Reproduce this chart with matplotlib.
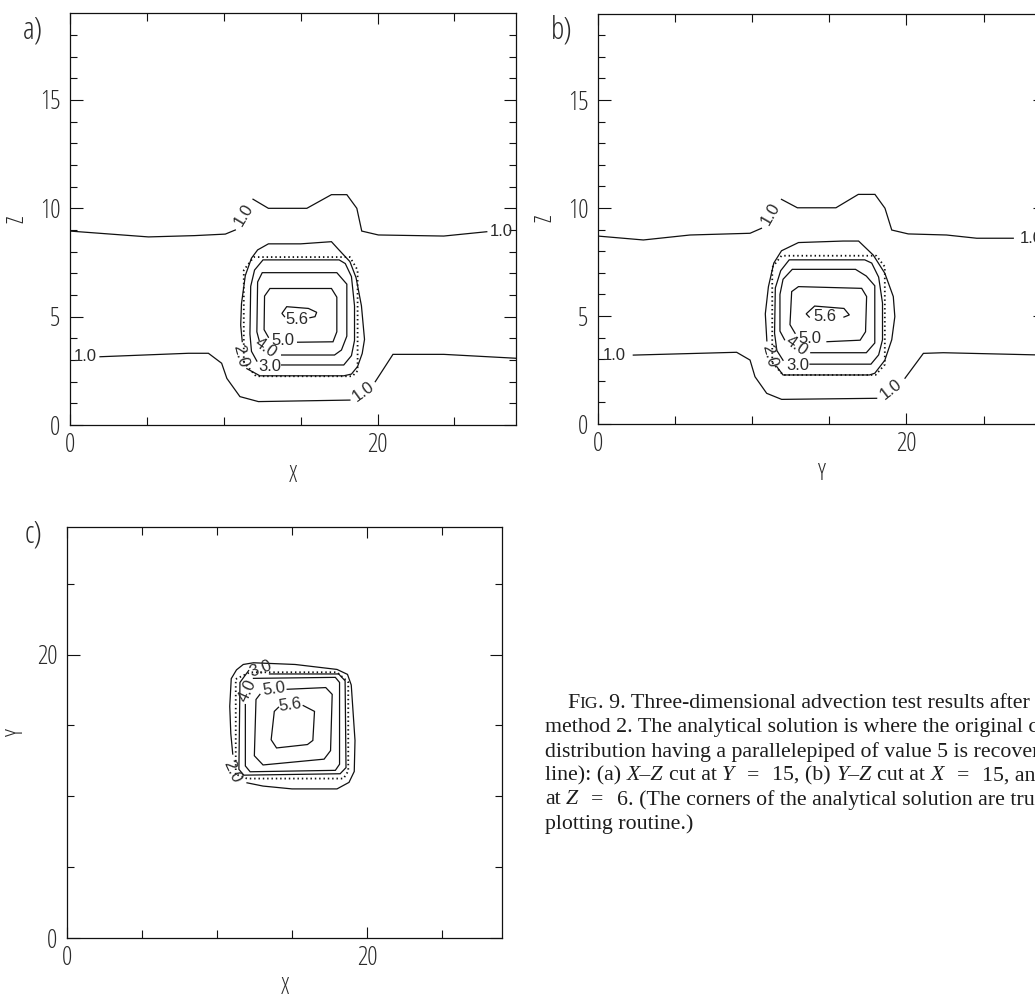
import matplotlib
matplotlib.use("Agg")
import matplotlib.pyplot as plt
from matplotlib import font_manager as fm
from matplotlib.font_manager import FontProperties
from matplotlib.ticker import FixedLocator

# ---------------------------------------------------------------------------
# Contour levels of the numerical solution
LEVELS = [1.0, 2.0, 3.0, 4.0, 5.0, 5.6]

# ---- (a) X-Z cut at Y = 15 ------------------------------------------------
a_c10_top1_x = [0.0, 5.1, 8.1, 10.1, 10.75]
a_c10_top1_z = [8.95, 8.68, 8.74, 8.81, 9.0]
a_c10_top2_x = [11.9, 12.9, 15.4, 17.0, 18.0, 18.65, 18.97, 20.05, 24.3, 27.1]
a_c10_top2_z = [10.42, 10.0, 10.0, 10.63, 10.63, 10.0, 8.95, 8.77, 8.72, 8.92]
a_c10_bot1_x = [1.95, 7.7, 9.0, 9.86, 10.2, 11.05, 12.25, 18.2]
a_c10_bot1_z = [3.15, 3.31, 3.31, 2.85, 2.15, 1.31, 1.08, 1.15]
a_c10_bot2_x = [19.85, 21.0, 24.3, 29.0]
a_c10_bot2_z = [2.0, 3.26, 3.26, 3.08]
a_c20_x = [11.2, 11.1, 11.15, 11.4, 11.8, 12.2, 12.9, 15.0, 17.0, 17.45, 18.2,
           18.6, 18.95, 19.15, 19.0, 18.7, 18.3, 17.8, 12.35, 11.5]
a_c20_z = [3.85, 4.6, 5.6, 6.9, 7.7, 8.08, 8.36, 8.36, 8.46, 8.11, 7.54,
           6.8, 5.5, 3.95, 3.3, 2.7, 2.35, 2.27, 2.27, 2.6]
a_c30_x = [13.76, 17.8, 18.3, 18.5, 18.5, 18.3, 17.9, 17.5, 12.55, 12.0, 11.75,
           11.7, 11.8, 12.15]
a_c30_z = [2.77, 2.77, 3.2, 3.9, 5.5, 6.85, 7.45, 7.62, 7.62, 7.15, 6.4,
           4.2, 3.4, 2.95]
a_c40_x = [13.76, 17.2, 17.65, 18.0, 18.0, 17.35, 12.5, 12.2, 12.15, 12.3]
a_c40_z = [3.23, 3.23, 3.46, 4.1, 6.5, 7.03, 7.03, 6.6, 4.3, 3.9]
a_c50_x = [14.8, 17.1, 17.35, 17.35, 17.0, 13.0, 12.65, 12.62, 12.9]
a_c50_z = [3.82, 3.84, 4.3, 5.9, 6.3, 6.3, 5.95, 4.4, 4.05]
a_c56_x = [15.6, 15.93, 16.04, 15.5, 14.09, 13.78, 13.95]
a_c56_z = [4.95, 5.0, 5.2, 5.38, 5.46, 5.15, 5.0]
a_exact_x = [11.3, 11.3, 11.95, 18.2, 18.7, 18.7, 18.35, 12.1, 11.3]
a_exact_z = [2.9, 7.15, 7.75, 7.75, 7.15, 2.5, 2.25, 2.25, 2.9]

# ---- (b) Y-Z cut at X = 15 ------------------------------------------------
b_c10_top1_y = [0.0, 2.94, 5.97, 9.86, 10.6]
b_c10_top1_z = [8.7, 8.52, 8.75, 8.83, 9.06]
b_c10_top2_y = [11.9, 12.93, 15.43, 16.88, 17.96, 18.61, 19.05, 20.12, 22.6, 24.56, 26.93]
b_c10_top2_z = [10.4, 10.01, 10.01, 10.63, 10.63, 9.99, 8.98, 8.8, 8.75, 8.6, 8.6]
b_c10_bot1_y = [2.29, 8.99, 9.86, 10.18, 10.94, 11.91, 18.07]
b_c10_bot1_z = [3.19, 3.32, 2.96, 2.19, 1.42, 1.14, 1.19]
b_c10_bot2_y = [19.91, 21.1, 22.39, 29.0]
b_c10_bot2_z = [2.12, 3.27, 3.3, 3.19]
b_c20_y = [10.95, 10.85, 11.05, 11.4, 11.9, 13.0, 15.9, 16.9, 17.85, 18.6, 19.15,
           19.25, 19.05, 18.6, 17.95, 17.6, 12.0, 11.6]
b_c20_z = [3.85, 5.1, 6.35, 7.45, 8.02, 8.4, 8.47, 8.47, 7.82, 6.98, 5.9,
           4.97, 3.9, 2.95, 2.35, 2.27, 2.27, 2.65]
b_c30_y = [13.75, 17.7, 18.2, 18.45, 18.45, 18.2, 17.75, 17.3, 12.4, 11.85, 11.5,
           11.45, 11.6, 12.0]
b_c30_z = [2.77, 2.77, 3.2, 3.9, 5.6, 6.8, 7.45, 7.6, 7.6, 7.1, 6.3,
           4.2, 3.4, 2.95]
b_c40_y = [13.8, 17.4, 17.95, 17.95, 17.4, 16.7, 12.6, 12.0, 11.8, 11.8, 12.1]
b_c40_z = [3.3, 3.3, 3.75, 6.4, 6.85, 7.16, 7.16, 6.7, 6.0, 4.3, 3.9]
b_c50_y = [14.85, 17.0, 17.35, 17.42, 17.1, 13.0, 12.56, 12.45, 12.78]
b_c50_z = [3.81, 3.88, 4.27, 5.9, 6.28, 6.36, 6.13, 4.6, 4.2]
b_c56_y = [15.95, 16.3, 15.95, 14.05, 13.5, 13.7]
b_c56_z = [4.95, 5.05, 5.35, 5.46, 5.1, 4.95]
b_exact_y = [11.3, 11.3, 11.9, 18.05, 18.6, 18.6, 18.0, 12.0, 11.3]
b_exact_z = [2.85, 7.25, 7.79, 7.79, 7.28, 2.75, 2.27, 2.27, 2.85]

# ---- (c) X-Y cut at Z = 6 -------------------------------------------------
c_c20_x = [12.0, 13.07, 15.0, 18.0, 18.8, 19.15, 19.2, 18.95, 18.7, 18.0,
           15.21, 12.43, 11.75, 11.3, 10.95, 10.85, 10.92, 11.05]
c_c20_y = [10.95, 10.72, 10.52, 10.52, 10.98, 11.75, 13.94, 17.85, 18.6, 18.95,
           19.3, 19.42, 19.3, 18.92, 18.3, 16.35, 14.42, 12.98]
c_c30_x = [13.5, 18.11, 18.54, 18.6, 18.21, 11.79, 11.46, 11.53, 12.11]
c_c30_y = [18.63, 18.63, 18.15, 12.02, 11.59, 11.49, 11.9, 18.03, 18.87]
c_c40_x = [12.43, 17.89, 18.17, 18.17, 17.89, 12.21, 11.89, 11.89]
c_c40_y = [18.32, 18.39, 18.03, 12.26, 11.83, 11.73, 12.14, 16.47]
c_c50_x = [14.68, 17.25, 17.68, 17.57, 17.14, 13.07, 12.49, 12.6, 12.86]
c_c50_y = [17.55, 17.67, 17.19, 13.22, 12.62, 12.21, 12.86, 16.83, 17.19]
c_c56_x = [15.75, 16.5, 16.39, 16.03, 13.97, 13.61, 13.82, 14.1]
c_c56_y = [16.4, 15.99, 13.94, 13.65, 13.41, 13.99, 15.99, 16.28]
c_exact_x = [11.25, 11.25, 12.2, 18.0, 18.75, 18.75, 18.43, 12.0, 11.25]
c_exact_y = [11.55, 18.27, 18.75, 18.75, 18.05, 11.78, 11.25, 11.25, 11.55]

# Axis ranges and ticks
XZ_RANGE = (29, 19)
XY_RANGE = (29, 29)
H_TICKS_LABELLED = [0, 20]
H_TICKS_MINOR = [5, 10, 15, 25]
Z_TICKS_LABELLED = [0, 5, 10, 15]
Z_TICKS_MINOR = [1, 2, 3, 4, 6, 7, 8, 9, 11, 12, 13, 14, 16, 17, 18]

# Caption runs: (text, relative size, style); ("", gap_px, None) is a fixed gap
CAPTION = [
    [("F", 1.0, "normal"), ("IG", 0.8, "normal"),
     (". 9. Three-dimensional advection test results after", 1.0, "normal")],
    [("method 2. The analytical solution is where the original c", 1.0, "normal")],
    [("distribution having a parallelepiped of value 5 is recovered", 1.0, "normal")],
    [("line): (a)", 1.0, "normal"), (" ", 1.0, "normal"), ("X–Z", 1.0, "italic"),
     (" ", 1.0, "normal"), ("cut at", 1.0, "normal"), (" ", 1.0, "normal"),
     ("Y", 1.0, "italic"), ("", 13, None), ("=", 1.0, "normal"),
     ("", 13, None), ("15, (b)", 1.0, "normal"), (" ", 1.0, "normal"),
     ("Y–Z", 1.0, "italic"), (" ", 1.0, "normal"), ("cut at", 1.0, "normal"),
     (" ", 1.0, "normal"), ("X", 1.0, "italic"), ("", 13, None),
     ("=", 1.0, "normal"), ("", 13, None), ("15, and", 1.0, "normal")],
    [("at", 1.0, "normal"), (" ", 1.0, "normal"), ("Z", 1.0, "italic"),
     ("", 13, None), ("=", 1.0, "normal"), ("", 13, None),
     ("6. (The corners of the analytical solution are truncated", 1.0, "normal")],
    [("plotting routine.)", 1.0, "normal")],
]

# ---------------------------------------------------------------------------
W, H = 1035, 999
fig = plt.figure(figsize=(W / 100, H / 100), dpi=100)
fig.patch.set_facecolor("white")


def _weight(v):
    if isinstance(v, str):
        return fm.weight_dict.get(v, 400)
    return int(v)


def pick_font(candidates):
    for name, stretches, wmin, wmax in candidates:
        for f in fm.fontManager.ttflist:
            if f.name != name:
                continue
            if stretches is not None and f.stretch not in stretches:
                continue
            if not (wmin <= _weight(f.weight) <= wmax):
                continue
            if f.style != "normal":
                continue
            return f.fname
    return None


NARROW = ("condensed", "semi-condensed", "extra-condensed")
idl_file = pick_font([
    ("Open Sans", NARROW, 250, 350),
    ("Liberation Sans Narrow", None, 350, 450),
    ("Roboto Condensed", None, 250, 400),
    ("Open Sans Condensed", None, 250, 400),
    ("DejaVu Sans", NARROW, 350, 450),
    ("Roboto", ("normal",), 250, 350),
    ("Liberation Sans", ("normal",), 350, 450),
])
num_file = pick_font([
    ("Liberation Sans", ("normal",), 350, 450),
    ("DejaVu Sans", ("normal",), 350, 450),
])


def idl_font(size):
    if idl_file:
        return FontProperties(fname=idl_file, size=size)
    return FontProperties(family="DejaVu Sans", size=size)


def num_font(size):
    if num_file:
        return FontProperties(fname=num_file, size=size)
    return FontProperties(family="DejaVu Sans", size=size)


SERIF = ["Liberation Serif", "DejaVu Serif"]
INK = "#2a2a2a"
LINE = "#111111"


def panel(left, top, right, bottom):
    return fig.add_axes([left / W, 1 - bottom / H, (right - left) / W, (bottom - top) / H])


def frame(ax, xr, yr, ymajor, yminor, xlabel, ylabel):
    ax.set_xlim(0, xr)
    ax.set_ylim(0, yr)
    ax.xaxis.set_major_locator(FixedLocator(H_TICKS_LABELLED))
    ax.xaxis.set_minor_locator(FixedLocator(H_TICKS_MINOR))
    ax.yaxis.set_major_locator(FixedLocator(ymajor))
    ax.yaxis.set_minor_locator(FixedLocator(yminor))
    ax.tick_params(which="both", direction="in", top=True, right=True,
                   color=LINE, width=0.8, labelcolor=INK)
    ax.tick_params(axis="x", which="major", length=8, pad=6)
    ax.tick_params(axis="x", which="minor", length=6)
    ax.tick_params(axis="y", which="major", length=9, pad=7)
    ax.tick_params(axis="y", which="minor", length=5)
    for lab in ax.get_xticklabels() + ax.get_yticklabels():
        lab.set_fontproperties(idl_font(18.5))
    for sp in ax.spines.values():
        sp.set_linewidth(0.9)
        sp.set_color(LINE)
    ax.set_xlabel(xlabel, fontproperties=idl_font(17), color=INK, va="center")
    ax.set_ylabel(ylabel, fontproperties=idl_font(17), color=INK, va="center")


def curve(ax, xs, ys):
    ax.plot(xs, ys, color=LINE, lw=0.9, solid_joinstyle="miter")


def exact(ax, xs, ys):
    ax.plot(xs, ys, color=LINE, lw=1.3, linestyle=(0, (0.8, 1.6)))


def tag(ax, x, y, level, rot=0):
    ax.text(x, y, f"{level:.1f}", rotation=rot, rotation_mode="anchor",
            ha="center", va="center", fontproperties=num_font(12), color=INK)


# ---- panel (a)
ax_a = panel(70, 13.3, 516, 425)
frame(ax_a, *XZ_RANGE, Z_TICKS_LABELLED, Z_TICKS_MINOR, "X", "Z")
ax_a.xaxis.set_label_coords(0.5, -(476 - 425) / (425 - 13.3))
ax_a.yaxis.set_label_coords((17 - 70) / (516 - 70), 0.5)
for xs, zs in [(a_c10_top1_x, a_c10_top1_z), (a_c10_top2_x, a_c10_top2_z),
               (a_c10_bot1_x, a_c10_bot1_z), (a_c10_bot2_x, a_c10_bot2_z),
               (a_c20_x, a_c20_z), (a_c30_x, a_c30_z), (a_c40_x, a_c40_z),
               (a_c50_x, a_c50_z), (a_c56_x, a_c56_z)]:
    curve(ax_a, xs, zs)
exact(ax_a, a_exact_x, a_exact_z)
tag(ax_a, 11.3, 9.7, LEVELS[0], 59)
tag(ax_a, 28.05, 8.95, LEVELS[0])
tag(ax_a, 0.98, 3.18, LEVELS[0])
tag(ax_a, 19.05, 1.55, LEVELS[0], 36)
tag(ax_a, 11.1, 3.2, LEVELS[1], -75)
tag(ax_a, 13.0, 2.72, LEVELS[2])
tag(ax_a, 12.75, 3.54, LEVELS[3], -35)
tag(ax_a, 13.85, 3.92, LEVELS[4])
tag(ax_a, 14.75, 4.87, LEVELS[5])

# ---- panel (b)
ax_b = panel(598, 13.6, 598 + 29 * 15.42, 424)
frame(ax_b, *XZ_RANGE, Z_TICKS_LABELLED, Z_TICKS_MINOR, "Y", "Z")
ax_b.xaxis.set_label_coords(0.5, -(474 - 424) / (424 - 13.6))
ax_b.yaxis.set_label_coords((545 - 598) / (29 * 15.42), 0.5)
for ys, zs in [(b_c10_top1_y, b_c10_top1_z), (b_c10_top2_y, b_c10_top2_z),
               (b_c10_bot1_y, b_c10_bot1_z), (b_c10_bot2_y, b_c10_bot2_z),
               (b_c20_y, b_c20_z), (b_c30_y, b_c30_z), (b_c40_y, b_c40_z),
               (b_c50_y, b_c50_z), (b_c56_y, b_c56_z)]:
    curve(ax_b, ys, zs)
exact(ax_b, b_exact_y, b_exact_z)
tag(ax_b, 11.2, 9.75, LEVELS[0], 60)
tag(ax_b, 28.1, 8.6, LEVELS[0])
tag(ax_b, 1.07, 3.19, LEVELS[0])
tag(ax_b, 19.0, 1.62, LEVELS[0], 38)
tag(ax_b, 11.1, 3.15, LEVELS[1], -75)
tag(ax_b, 12.95, 2.72, LEVELS[2])
tag(ax_b, 12.85, 3.6, LEVELS[3], -35)
tag(ax_b, 13.75, 3.97, LEVELS[4])
tag(ax_b, 14.7, 4.98, LEVELS[5])

# ---- panel (c)
ax_c = panel(67, 527, 502, 938)
frame(ax_c, *XY_RANGE, H_TICKS_LABELLED, H_TICKS_MINOR, "X", "Y")
ax_c.xaxis.set_label_coords(0.5, -(988 - 938) / (938 - 527))
ax_c.yaxis.set_label_coords((17 - 67) / (502 - 67), 0.5)
for xs, ys in [(c_c20_x, c_c20_y), (c_c30_x, c_c30_y), (c_c40_x, c_c40_y),
               (c_c50_x, c_c50_y), (c_c56_x, c_c56_y)]:
    curve(ax_c, xs, ys)
exact(ax_c, c_exact_x, c_exact_y)
tag(ax_c, 11.0, 11.75, LEVELS[1], -65)
tag(ax_c, 12.9, 19.0, LEVELS[2], 20)
tag(ax_c, 12.06, 17.43, LEVELS[3], 65)
tag(ax_c, 13.8, 17.55, LEVELS[4], 8)
tag(ax_c, 14.85, 16.45, LEVELS[5], 8)

# ---- panel tags
for s, (px, py) in zip(["a)", "b)", "c)"], [(33, 31), (562, 31), (33, 535)]):
    fig.text(px / W, 1 - py / H, s, fontproperties=idl_font(22), color=INK,
             ha="center", va="center")

# ---- caption
renderer = fig.canvas.get_renderer()


def text_width(s, size, style):
    probe = fig.text(0, 0, "|" + s + "|", family=SERIF, fontsize=size, style=style)
    bar = fig.text(0, 0, "||", family=SERIF, fontsize=size, style=style)
    w = probe.get_window_extent(renderer).width - bar.get_window_extent(renderer).width
    probe.remove()
    bar.remove()
    return w


ref_line = "distribution having a parallelepiped of value 5 is recover"
base = 10.0
cap_size = base * 495.0 / text_width(ref_line, base, "normal")

starts = [567, 545, 545, 545, 545, 545]
baselines = [708, 732, 756.5, 780.5, 804.5, 828.5]
for runs, x0, yb in zip(CAPTION, starts, baselines):
    x = x0
    for s, scale, style in runs:
        if style is None:
            x += scale
            continue
        size = cap_size * scale
        if s.strip():
            fig.text(x / W, 1 - yb / H, s, family=SERIF, fontsize=size, style=style,
                     color="#1c1c1c", ha="left", va="baseline")
        x += text_width(s, size, style)

fig.savefig("out.png", dpi=100, facecolor="white")
